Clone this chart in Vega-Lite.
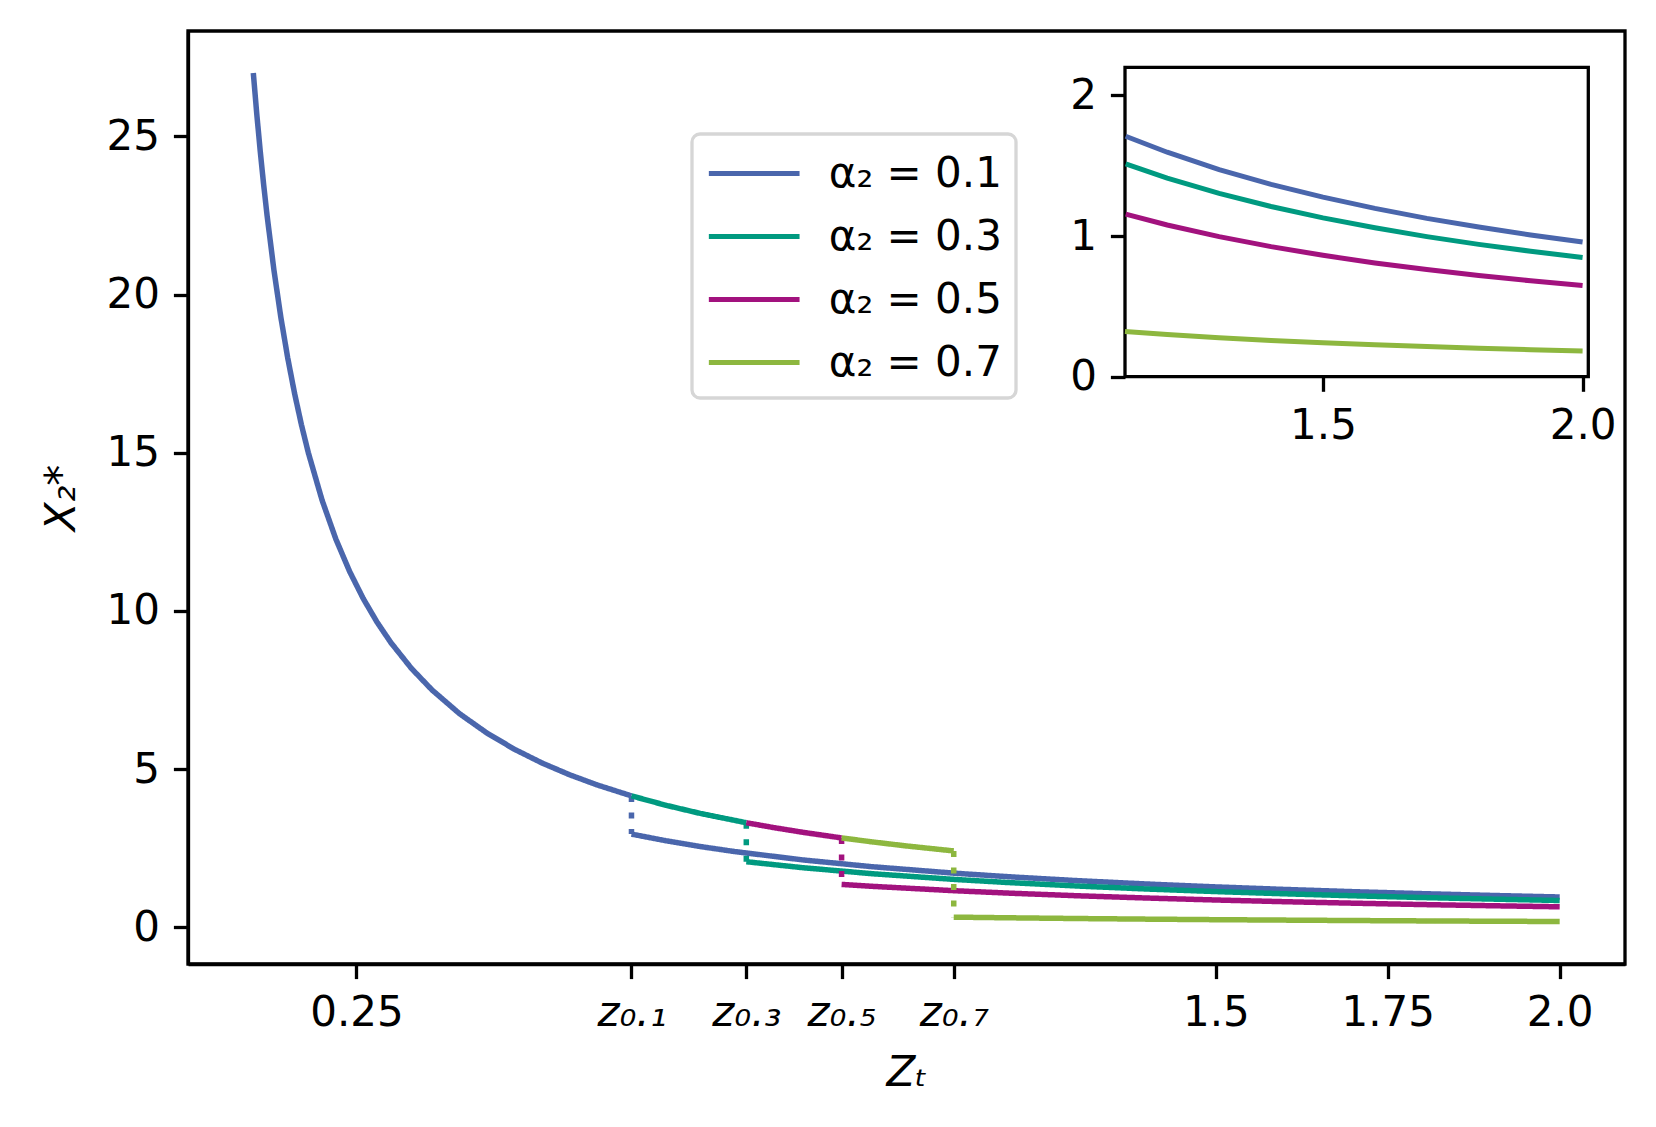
{
  "$schema": "https://vega.github.io/schema/vega-lite/v6.json",
  "width": 1437,
  "height": 933,
  "autosize": {"type": "none"},
  "padding": {"left": 188, "top": 31, "right": 31, "bottom": 163},
  "background": "white",
  "data": {"values": [
    {"a": "α₂ = 0.1", "s": "u1", "p": "up", "x": 0.1, "y": 27.0},
    {"a": "α₂ = 0.1", "s": "u1", "p": "up", "x": 0.105, "y": 25.714},
    {"a": "α₂ = 0.1", "s": "u1", "p": "up", "x": 0.11, "y": 24.545},
    {"a": "α₂ = 0.1", "s": "u1", "p": "up", "x": 0.115, "y": 23.478},
    {"a": "α₂ = 0.1", "s": "u1", "p": "up", "x": 0.12, "y": 22.5},
    {"a": "α₂ = 0.1", "s": "u1", "p": "up", "x": 0.13, "y": 20.769},
    {"a": "α₂ = 0.1", "s": "u1", "p": "up", "x": 0.14, "y": 19.286},
    {"a": "α₂ = 0.1", "s": "u1", "p": "up", "x": 0.15, "y": 18.0},
    {"a": "α₂ = 0.1", "s": "u1", "p": "up", "x": 0.16, "y": 16.875},
    {"a": "α₂ = 0.1", "s": "u1", "p": "up", "x": 0.17, "y": 15.882},
    {"a": "α₂ = 0.1", "s": "u1", "p": "up", "x": 0.18, "y": 15.0},
    {"a": "α₂ = 0.1", "s": "u1", "p": "up", "x": 0.2, "y": 13.5},
    {"a": "α₂ = 0.1", "s": "u1", "p": "up", "x": 0.22, "y": 12.273},
    {"a": "α₂ = 0.1", "s": "u1", "p": "up", "x": 0.24, "y": 11.25},
    {"a": "α₂ = 0.1", "s": "u1", "p": "up", "x": 0.26, "y": 10.385},
    {"a": "α₂ = 0.1", "s": "u1", "p": "up", "x": 0.28, "y": 9.643},
    {"a": "α₂ = 0.1", "s": "u1", "p": "up", "x": 0.3, "y": 9.0},
    {"a": "α₂ = 0.1", "s": "u1", "p": "up", "x": 0.33, "y": 8.182},
    {"a": "α₂ = 0.1", "s": "u1", "p": "up", "x": 0.36, "y": 7.5},
    {"a": "α₂ = 0.1", "s": "u1", "p": "up", "x": 0.4, "y": 6.75},
    {"a": "α₂ = 0.1", "s": "u1", "p": "up", "x": 0.44, "y": 6.136},
    {"a": "α₂ = 0.1", "s": "u1", "p": "up", "x": 0.48, "y": 5.625},
    {"a": "α₂ = 0.1", "s": "u1", "p": "up", "x": 0.52, "y": 5.192},
    {"a": "α₂ = 0.1", "s": "u1", "p": "up", "x": 0.56, "y": 4.821},
    {"a": "α₂ = 0.1", "s": "u1", "p": "up", "x": 0.6, "y": 4.5},
    {"a": "α₂ = 0.1", "s": "u1", "p": "up", "x": 0.65, "y": 4.154},
    {"a": "α₂ = 0.1", "s": "d1", "p": "drop", "x": 0.65, "y": 4.154},
    {"a": "α₂ = 0.1", "s": "d1", "p": "drop", "x": 0.65, "y": 2.946},
    {"a": "α₂ = 0.1", "s": "l1", "p": "low", "x": 0.65, "y": 2.946},
    {"a": "α₂ = 0.1", "s": "l1", "p": "low", "x": 0.7, "y": 2.736},
    {"a": "α₂ = 0.1", "s": "l1", "p": "low", "x": 0.75, "y": 2.553},
    {"a": "α₂ = 0.1", "s": "l1", "p": "low", "x": 0.8, "y": 2.394},
    {"a": "α₂ = 0.1", "s": "l1", "p": "low", "x": 0.9, "y": 2.128},
    {"a": "α₂ = 0.1", "s": "l1", "p": "low", "x": 1.0, "y": 1.915},
    {"a": "α₂ = 0.1", "s": "l1", "p": "low", "x": 1.12, "y": 1.71},
    {"a": "α₂ = 0.1", "s": "l1", "p": "low", "x": 1.2, "y": 1.596},
    {"a": "α₂ = 0.1", "s": "l1", "p": "low", "x": 1.3, "y": 1.473},
    {"a": "α₂ = 0.1", "s": "l1", "p": "low", "x": 1.4, "y": 1.368},
    {"a": "α₂ = 0.1", "s": "l1", "p": "low", "x": 1.5, "y": 1.277},
    {"a": "α₂ = 0.1", "s": "l1", "p": "low", "x": 1.6, "y": 1.197},
    {"a": "α₂ = 0.1", "s": "l1", "p": "low", "x": 1.7, "y": 1.126},
    {"a": "α₂ = 0.1", "s": "l1", "p": "low", "x": 1.8, "y": 1.064},
    {"a": "α₂ = 0.1", "s": "l1", "p": "low", "x": 1.9, "y": 1.008},
    {"a": "α₂ = 0.1", "s": "l1", "p": "low", "x": 2.0, "y": 0.958},
    {"a": "α₂ = 0.3", "s": "u3", "p": "up", "x": 0.65, "y": 4.154},
    {"a": "α₂ = 0.3", "s": "u3", "p": "up", "x": 0.7, "y": 3.857},
    {"a": "α₂ = 0.3", "s": "u3", "p": "up", "x": 0.75, "y": 3.6},
    {"a": "α₂ = 0.3", "s": "u3", "p": "up", "x": 0.817, "y": 3.305},
    {"a": "α₂ = 0.3", "s": "d3", "p": "drop", "x": 0.817, "y": 3.305},
    {"a": "α₂ = 0.3", "s": "d3", "p": "drop", "x": 0.817, "y": 2.073},
    {"a": "α₂ = 0.3", "s": "l3", "p": "low", "x": 0.817, "y": 2.073},
    {"a": "α₂ = 0.3", "s": "l3", "p": "low", "x": 0.9, "y": 1.882},
    {"a": "α₂ = 0.3", "s": "l3", "p": "low", "x": 1.0, "y": 1.694},
    {"a": "α₂ = 0.3", "s": "l3", "p": "low", "x": 1.12, "y": 1.513},
    {"a": "α₂ = 0.3", "s": "l3", "p": "low", "x": 1.2, "y": 1.412},
    {"a": "α₂ = 0.3", "s": "l3", "p": "low", "x": 1.3, "y": 1.303},
    {"a": "α₂ = 0.3", "s": "l3", "p": "low", "x": 1.4, "y": 1.21},
    {"a": "α₂ = 0.3", "s": "l3", "p": "low", "x": 1.5, "y": 1.129},
    {"a": "α₂ = 0.3", "s": "l3", "p": "low", "x": 1.6, "y": 1.059},
    {"a": "α₂ = 0.3", "s": "l3", "p": "low", "x": 1.7, "y": 0.996},
    {"a": "α₂ = 0.3", "s": "l3", "p": "low", "x": 1.8, "y": 0.941},
    {"a": "α₂ = 0.3", "s": "l3", "p": "low", "x": 1.9, "y": 0.892},
    {"a": "α₂ = 0.3", "s": "l3", "p": "low", "x": 2.0, "y": 0.847},
    {"a": "α₂ = 0.5", "s": "u5", "p": "up", "x": 0.817, "y": 3.305},
    {"a": "α₂ = 0.5", "s": "u5", "p": "up", "x": 0.86, "y": 3.14},
    {"a": "α₂ = 0.5", "s": "u5", "p": "up", "x": 0.9, "y": 3.0},
    {"a": "α₂ = 0.5", "s": "u5", "p": "up", "x": 0.9556, "y": 2.825},
    {"a": "α₂ = 0.5", "s": "d5", "p": "drop", "x": 0.9556, "y": 2.825},
    {"a": "α₂ = 0.5", "s": "d5", "p": "drop", "x": 0.9556, "y": 1.355},
    {"a": "α₂ = 0.5", "s": "l5", "p": "low", "x": 0.9556, "y": 1.355},
    {"a": "α₂ = 0.5", "s": "l5", "p": "low", "x": 1.0, "y": 1.295},
    {"a": "α₂ = 0.5", "s": "l5", "p": "low", "x": 1.12, "y": 1.156},
    {"a": "α₂ = 0.5", "s": "l5", "p": "low", "x": 1.2, "y": 1.079},
    {"a": "α₂ = 0.5", "s": "l5", "p": "low", "x": 1.3, "y": 0.996},
    {"a": "α₂ = 0.5", "s": "l5", "p": "low", "x": 1.4, "y": 0.925},
    {"a": "α₂ = 0.5", "s": "l5", "p": "low", "x": 1.5, "y": 0.863},
    {"a": "α₂ = 0.5", "s": "l5", "p": "low", "x": 1.6, "y": 0.809},
    {"a": "α₂ = 0.5", "s": "l5", "p": "low", "x": 1.7, "y": 0.762},
    {"a": "α₂ = 0.5", "s": "l5", "p": "low", "x": 1.8, "y": 0.719},
    {"a": "α₂ = 0.5", "s": "l5", "p": "low", "x": 1.9, "y": 0.682},
    {"a": "α₂ = 0.5", "s": "l5", "p": "low", "x": 2.0, "y": 0.648},
    {"a": "α₂ = 0.7", "s": "u7", "p": "up", "x": 0.9556, "y": 2.825},
    {"a": "α₂ = 0.7", "s": "u7", "p": "up", "x": 1.0, "y": 2.7},
    {"a": "α₂ = 0.7", "s": "u7", "p": "up", "x": 1.05, "y": 2.571},
    {"a": "α₂ = 0.7", "s": "u7", "p": "up", "x": 1.1187, "y": 2.414},
    {"a": "α₂ = 0.7", "s": "d7", "p": "drop", "x": 1.1187, "y": 2.414},
    {"a": "α₂ = 0.7", "s": "d7", "p": "drop", "x": 1.1187, "y": 0.321},
    {"a": "α₂ = 0.7", "s": "l7", "p": "low", "x": 1.1187, "y": 0.321},
    {"a": "α₂ = 0.7", "s": "l7", "p": "low", "x": 1.2, "y": 0.3},
    {"a": "α₂ = 0.7", "s": "l7", "p": "low", "x": 1.3, "y": 0.277},
    {"a": "α₂ = 0.7", "s": "l7", "p": "low", "x": 1.4, "y": 0.258},
    {"a": "α₂ = 0.7", "s": "l7", "p": "low", "x": 1.5, "y": 0.241},
    {"a": "α₂ = 0.7", "s": "l7", "p": "low", "x": 1.6, "y": 0.227},
    {"a": "α₂ = 0.7", "s": "l7", "p": "low", "x": 1.7, "y": 0.214},
    {"a": "α₂ = 0.7", "s": "l7", "p": "low", "x": 1.8, "y": 0.202},
    {"a": "α₂ = 0.7", "s": "l7", "p": "low", "x": 1.9, "y": 0.192},
    {"a": "α₂ = 0.7", "s": "l7", "p": "low", "x": 2.0, "y": 0.183}
  ]},
  "layer": [
    {
      "mark": {"type": "line", "strokeWidth": 5.5},
      "encoding": {
        "x": {
          "field": "x", "type": "quantitative",
          "scale": {"domain": [0.005, 2.095], "nice": false, "zero": false},
          "axis": {
            "title": "Zₜ",
            "titleFontStyle": "italic",
            "titlePadding": 19,
            "values": [0.25, 0.65, 0.817, 0.9556, 1.1187, 1.5, 1.75, 2.0],
            "labelExpr": "datum.value == 0.25 ? '0.25' : datum.value == 0.65 ? 'z₀.₁' : datum.value == 0.817 ? 'z₀.₃' : datum.value == 0.9556 ? 'z₀.₅' : datum.value == 1.1187 ? 'z₀.₇' : datum.value == 1.5 ? '1.5' : datum.value == 1.75 ? '1.75' : '2.0'",
            "labelFontStyle": {"condition": {"test": "datum.value > 0.5 && datum.value < 1.2", "value": "italic"}, "value": "normal"}
          }
        },
        "y": {
          "field": "y", "type": "quantitative",
          "scale": {"domain": [-1.16, 28.33], "nice": false, "zero": false},
          "axis": {
            "title": "X₂*",
            "titleFontStyle": "italic",
            "titlePadding": 22,
            "values": [0, 5, 10, 15, 20, 25],
            "format": "d"
          }
        },
        "color": {
          "field": "a", "type": "nominal",
          "scale": {
            "domain": ["α₂ = 0.1", "α₂ = 0.3", "α₂ = 0.5", "α₂ = 0.7"],
            "range": ["#4a66ac", "#009a80", "#a2127e", "#8db73f"]
          },
          "legend": {
            "title": null,
            "orient": "none",
            "legendX": 504,
            "legendY": 103
          }
        },
        "strokeDash": {
          "field": "p", "type": "nominal",
          "scale": {"domain": ["up", "drop", "low"], "range": [[1, 0], [6, 10.5], [1, 0]]},
          "legend": null
        },
        "detail": {"field": "s"}
      }
    },
    {
      "layer": [
        {
          "data": {"values": [{"f": 1}]},
          "mark": {"type": "rect", "fill": "white", "stroke": "black", "strokeWidth": 3.3},
          "encoding": {
            "x": {
              "datum": 1.1187, "type": "quantitative",
              "scale": {"domain": [1.1187, 2.011], "range": [937, 1400.3], "nice": false, "zero": false},
              "axis": {"orient": "bottom", "offset": -587.3, "title": null, "values": [1.5, 2.0], "format": ".1f", "domain": false}
            },
            "x2": {"datum": 2.011},
            "y": {
              "datum": 0, "type": "quantitative",
              "scale": {"domain": [0, 2.2], "range": [345.7, 36.3], "nice": false, "zero": false},
              "axis": {"orient": "left", "offset": -937, "title": null, "values": [0, 1, 2], "format": "d", "domain": false}
            },
            "y2": {"datum": 2.2}
          }
        },
        {
          "transform": [{"filter": "datum.p == 'low' && datum.x >= 1.118"}],
          "mark": {"type": "line", "strokeWidth": 5},
          "encoding": {
            "x": {
              "field": "x", "type": "quantitative",
              "scale": {"domain": [1.1187, 2.011], "range": [937, 1400.3], "nice": false, "zero": false}
            },
            "y": {
              "field": "y", "type": "quantitative",
              "scale": {"domain": [0, 2.2], "range": [345.7, 36.3], "nice": false, "zero": false}
            },
            "color": {"field": "a", "type": "nominal"},
            "detail": {"field": "s"}
          }
        }
      ]
    }
  ],
  "resolve": {"scale": {"x": "independent", "y": "independent"}},
  "config": {
    "view": {"stroke": "black", "strokeWidth": 3.3},
    "font": "DejaVu Sans",
    "axis": {
      "grid": false,
      "domainColor": "black",
      "domainWidth": 3.3,
      "tickColor": "black",
      "tickWidth": 3.3,
      "tickSize": 14.6,
      "labelFont": "DejaVu Sans",
      "labelFontSize": 42,
      "labelColor": "black",
      "labelPadding": 14,
      "titleFont": "DejaVu Sans",
      "titleFontSize": 42,
      "titleFontWeight": "normal",
      "titleColor": "black"
    },
    "legend": {
      "labelFont": "DejaVu Sans",
      "labelFontSize": 42,
      "labelColor": "black",
      "labelLimit": 0,
      "symbolType": "M-2,0L2,0",
      "symbolSize": 2057,
      "symbolStrokeWidth": 5,
      "symbolOffset": 22.7,
      "labelOffset": 49,
      "rowPadding": 16,
      "padding": 14,
      "strokeColor": "#d6d6d6",
      "strokeWidth": 3.3,
      "fillColor": "white",
      "cornerRadius": 8
    }
  }
}
